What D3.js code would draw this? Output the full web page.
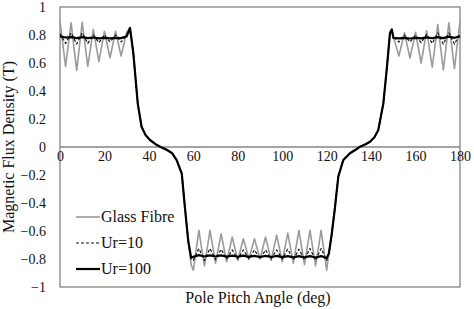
<!DOCTYPE html>
<html>
<head>
<meta charset="utf-8">
<script src="https://cdn.jsdelivr.net/npm/d3@7"></script>
<style>
  body { margin: 0; background: #fff; }
  svg text { font-family: "Liberation Serif", "Times New Roman", Times, "DejaVu Serif", serif; fill: #111; }
</style>
</head>
<body>
<div id="chart"></div>
<script>
// constants
const W = 474, H = 309
const margin = {top: 7, right: 14, bottom: 22, left: 60}
const serif = '"Liberation Serif", "Times New Roman", Times, "DejaVu Serif", serif'

// data
const angles = [0, 2.5, 5, 7.5, 10, 12.5, 15, 17.5, 20, 22.5, 25, 27.5, 30,
    31.5, 33, 35, 36.7, 38.5, 40.5, 43, 45.5, 48, 50.5, 52.5, 54.8, 56.2, 57.7, 59,
    60, 62.5, 65, 67.5, 70, 72.5, 75, 77.5, 80, 82.5, 85, 87.5, 90, 92.5, 95, 97.5,
    100, 102.5, 105, 107.5, 110, 112.5, 115, 117.5, 120,
    121, 122.3, 123.75, 125.25, 127.5, 130.5, 133, 135, 137.5, 139.5, 141.5, 143.2, 145.5, 147, 148.5, 149.3,
    150, 152.5, 155, 157.5, 160, 162.5, 165, 167.5, 170, 172.5, 175, 177.5, 180]

const glassFibre = [0.90, 0.576, 0.887, 0.547, 0.89, 0.576, 0.84, 0.61, 0.827, 0.636, 0.827, 0.65, 0.82,
    0.85, 0.67, 0.31, 0.145, 0.085, 0.05, 0.02, -0.002, -0.02, -0.045, -0.093, -0.19, -0.43, -0.67, -0.84,
    -0.88, -0.595, -0.85, -0.595, -0.83, -0.62, -0.82, -0.643, -0.81, -0.655, -0.80, -0.655, -0.80, -0.643, -0.81, -0.63,
    -0.82, -0.615, -0.83, -0.595, -0.84, -0.595, -0.85, -0.595, -0.88,
    -0.76, -0.62, -0.43, -0.21, -0.093, -0.045, -0.02, 0.002, 0.02, 0.038, 0.07, 0.12, 0.31, 0.55, 0.815, 0.84,
    0.79, 0.65, 0.815, 0.636, 0.82, 0.60, 0.83, 0.57, 0.875, 0.55, 0.887, 0.56, 0.90]

const ur10 = [0.81, 0.74, 0.815, 0.735, 0.815, 0.74, 0.80, 0.745, 0.80, 0.75, 0.80, 0.75, 0.80,
    0.85, 0.67, 0.31, 0.145, 0.085, 0.05, 0.02, -0.002, -0.02, -0.045, -0.093, -0.19, -0.43, -0.67, -0.80,
    -0.81, -0.725, -0.81, -0.725, -0.805, -0.73, -0.80, -0.735, -0.80, -0.735, -0.80, -0.735, -0.80, -0.735, -0.80, -0.735,
    -0.80, -0.73, -0.805, -0.73, -0.805, -0.725, -0.81, -0.725, -0.81,
    -0.76, -0.62, -0.43, -0.21, -0.093, -0.045, -0.02, 0.002, 0.02, 0.038, 0.07, 0.12, 0.31, 0.55, 0.815, 0.84,
    0.79, 0.75, 0.80, 0.75, 0.80, 0.745, 0.805, 0.74, 0.815, 0.735, 0.815, 0.735, 0.81]

const ur100 = [0.79, 0.782, 0.785, 0.778, 0.785, 0.778, 0.782, 0.776, 0.78, 0.776, 0.78, 0.778, 0.79,
    0.85, 0.67, 0.31, 0.145, 0.085, 0.05, 0.02, -0.002, -0.02, -0.045, -0.093, -0.19, -0.43, -0.67, -0.79,
    -0.785, -0.772, -0.782, -0.774, -0.782, -0.774, -0.783, -0.776, -0.784, -0.776, -0.785, -0.778, -0.786, -0.778, -0.786, -0.778,
    -0.787, -0.779, -0.788, -0.779, -0.788, -0.779, -0.789, -0.779, -0.795,
    -0.76, -0.62, -0.43, -0.21, -0.093, -0.045, -0.02, 0.002, 0.02, 0.038, 0.07, 0.12, 0.31, 0.55, 0.815, 0.84,
    0.78, 0.776, 0.78, 0.775, 0.78, 0.776, 0.783, 0.777, 0.785, 0.778, 0.788, 0.78, 0.79]

const xTicks = [0, 20, 40, 60, 80, 100, 120, 140, 160, 180]
const yTicks = [-1, -0.8, -0.6, -0.4, -0.2, 0, 0.2, 0.4, 0.6, 0.8, 1]

const seriesNames = ['Glass Fibre', 'Ur=10', 'Ur=100']
const seriesValues = [glassFibre, ur10, ur100]
const seriesStyles = [
    {stroke: '#9a9a9a', width: 1.6, dash: null},
    {stroke: '#111', width: 1.2, dash: '3,2'},
    {stroke: '#000', width: 2.2, dash: null}
]

const svg = d3.select('#chart')
    .append('svg')
        .attr('width', W)
        .attr('height', H)

const g = svg.append('g')
    .attr('transform', `translate(${margin.left}, ${margin.top})`)

const x = d3.scaleLinear().domain([0, 180]).range([0, 400])
const y = d3.scaleLinear().domain([-1, 1]).range([280, 0])

// plot frame
g.append('rect')
    .attr('x', 0).attr('y', 0)
    .attr('width', x(180)).attr('height', y(-1))
    .attr('fill', 'none')
    .attr('stroke', '#858585')
    .attr('stroke-width', 1.3)

// zero line
g.append('line')
    .attr('x1', 0).attr('x2', x(180))
    .attr('y1', y(0)).attr('y2', y(0))
    .attr('stroke', '#858585')
    .attr('stroke-width', 1.3)

// y axis labels
g.append('g')
    .attr('font-family', serif)
    .call(d3.axisLeft(y).tickValues(yTicks).tickSize(0).tickPadding(14)
        .tickFormat(d => d3.format('')(+d.toFixed(1))))
    .call(a => a.select('.domain').remove())
    .call(a => a.selectAll('text')
        .attr('font-size', 14)
        .attr('fill', '#111'))

// x axis labels sit under the zero line
g.append('g')
    .attr('transform', `translate(0, ${y(0)})`)
    .call(d3.axisBottom(x).tickValues(xTicks).tickSize(0).tickPadding(4))
    .attr('font-family', serif)
    .call(a => a.select('.domain').remove())
    .call(a => a.selectAll('text')
        .attr('font-size', 14)
        .attr('fill', '#111'))

// series
const line = d3.line()
    .x((d, i) => x(angles[i]))
    .y(d => y(d))

seriesValues.forEach((vals, i) => {
    g.append('path')
        .datum(vals)
        .attr('d', line)
        .attr('fill', 'none')
        .attr('stroke', seriesStyles[i].stroke)
        .attr('stroke-width', seriesStyles[i].width)
        .attr('stroke-dasharray', seriesStyles[i].dash)
        .attr('stroke-linejoin', 'round')
})

// legend
const legend = g.append('g')
    .attr('transform', `translate(16, ${y(-0.5)})`)
seriesNames.forEach((name, i) => {
    const row = legend.append('g').attr('transform', `translate(0, ${i * 26})`)
    row.append('line')
        .attr('x1', 0).attr('x2', 24)
        .attr('y1', 0).attr('y2', 0)
        .attr('stroke', seriesStyles[i].stroke)
        .attr('stroke-width', seriesStyles[i].width)
        .attr('stroke-dasharray', seriesStyles[i].dash)
    row.append('text')
        .attr('x', 25)
        .attr('y', 5)
        .attr('font-size', 16)
        .text(name)
})

// axis titles
svg.append('text')
    .attr('x', 258)
    .attr('y', 303)
    .attr('text-anchor', 'middle')
    .attr('font-size', 16)
    .text('Pole Pitch Angle (deg)')

svg.append('text')
    .attr('transform', `translate(14, ${margin.top + y(0)}) rotate(-90)`)
    .attr('text-anchor', 'middle')
    .attr('font-size', 16)
    .text('Magnetic Flux Density (T)')
</script>
</body>
</html>
